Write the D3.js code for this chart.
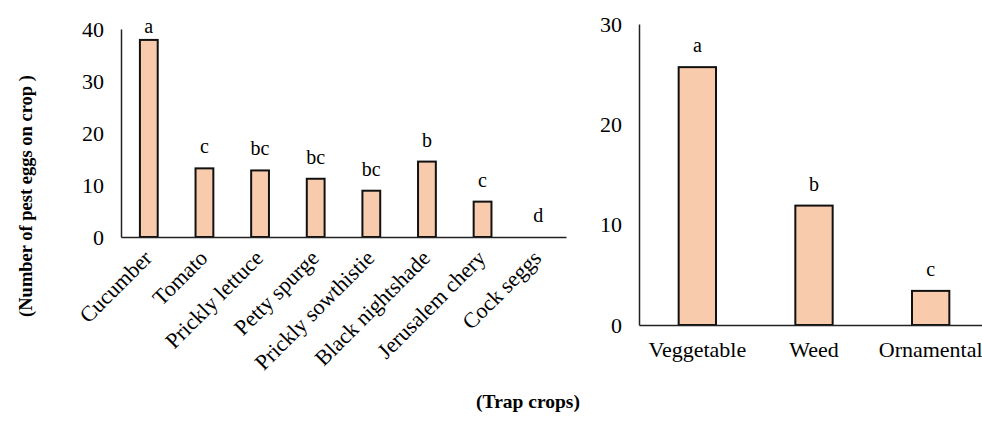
<!DOCTYPE html>
<html lang="en">
<head>
<meta charset="UTF-8">
<title>Trap crops</title>
<script src="https://cdn.jsdelivr.net/npm/d3@7"></script>
<style>
  body { margin: 0; background: #fff; }
  svg text { font-family: "Liberation Serif", "Times New Roman", serif; fill: #000; }
</style>
</head>
<body>
<div id="chart"></div>
<script>
// left panel: individual trap crops
const crops = ['Cucumber', 'Tomato', 'Prickly lettuce', 'Petty spurge', 'Prickly sowthistie', 'Black nightshade', 'Jerusalem chery', 'Cock seggs'];
const cropEggs = [37.9, 13.2, 12.8, 11.2, 8.9, 14.5, 6.8, 0];
const cropLetters = ['a', 'c', 'bc', 'bc', 'bc', 'b', 'c', 'd'];
const cropTicks = [0, 10, 20, 30, 40];

// right panel: crop groups
const groups = ['Veggetable', 'Weed', 'Ornamental'];
const groupEggs = [25.7, 11.9, 3.4];
const groupLetters = ['a', 'b', 'c'];
const groupTicks = [0, 10, 20, 30];

const w = 982, h = 423;
const fill = '#f8cbad';

const svg = d3.select('#chart').append('svg')
    .attr('width', w)
    .attr('height', h);

function panel(cats, vals, letters, ticks, opt) {
    const x = d3.scaleBand().domain(cats).range([opt.x0, opt.x1]).paddingInner(0.68).paddingOuter(0.34);
    const y = d3.scaleLinear().domain([0, d3.max(ticks)]).range([opt.y0, opt.y1]);
    const g = svg.append('g');

    // y axis
    const yAxis = g.append('g')
        .attr('transform', `translate(${opt.x0},0)`)
        .call(d3.axisLeft(y).tickValues(ticks).tickSize(0).tickPadding(opt.tickPad));
    yAxis.select('.domain').attr('stroke', '#222').attr('stroke-width', 1.5);
    yAxis.selectAll('text').style('font-size', '22px').style('font-family', '"Liberation Serif", serif');

    // bars
    g.selectAll('rect')
        .data(vals)
        .enter()
        .append('rect')
        .attr('x', (d, i) => x(cats[i]))
        .attr('y', d => y(d))
        .attr('width', x.bandwidth())
        .attr('height', d => y(0) - y(d))
        .attr('fill', fill)
        .attr('stroke', d => d > 0 ? '#111' : 'none')
        .attr('stroke-width', 2);

    // letters above bars (kept inside the plot area, like the original)
    g.selectAll('.letter')
        .data(letters)
        .enter()
        .append('text')
        .attr('class', 'letter')
        .attr('x', (d, i) => x(cats[i]) + x.bandwidth() / 2)
        .attr('y', (d, i) => Math.max(y(vals[i]) - 15, opt.y1 + 4))
        .attr('text-anchor', 'middle')
        .style('font-size', '20px')
        .text(d => d);

    // x axis
    const xAxis = g.append('g')
        .attr('transform', `translate(0,${opt.y0})`)
        .call(d3.axisBottom(x).tickSize(0).tickSizeOuter(0).tickPadding(opt.catPad));
    xAxis.select('.domain').attr('stroke', '#222').attr('stroke-width', 1.5);
    xAxis.selectAll('text').style('font-size', '22px').style('font-family', '"Liberation Serif", serif');
    if (opt.rotate) {
        xAxis.selectAll('text')
            .attr('text-anchor', 'end')
            .attr('dy', '0.35em')
            .attr('transform', 'translate(-1,17) rotate(-45)')
            .attr('y', 0).attr('x', 0);
    }
    return g;
}

panel(crops, cropEggs, cropLetters, cropTicks, { x0: 121, x1: 566, y0: 237, y1: 29, tickPad: 17, catPad: 10, rotate: true });
panel(groups, groupEggs, groupLetters, groupTicks, { x0: 639, x1: 989, y0: 325, y1: 24, tickPad: 17, catPad: 16, rotate: false });

// axis titles
svg.append('text')
    .attr('transform', 'translate(32,196) rotate(-90)')
    .attr('text-anchor', 'middle')
    .style('font-size', '18.5px')
    .style('font-weight', 'bold')
    .text('(Number of pest eggs on crop )');

svg.append('text')
    .attr('x', 528)
    .attr('y', 408)
    .attr('text-anchor', 'middle')
    .style('font-size', '19.5px')
    .style('font-weight', 'bold')
    .text('(Trap crops)');
</script>
</body>
</html>
